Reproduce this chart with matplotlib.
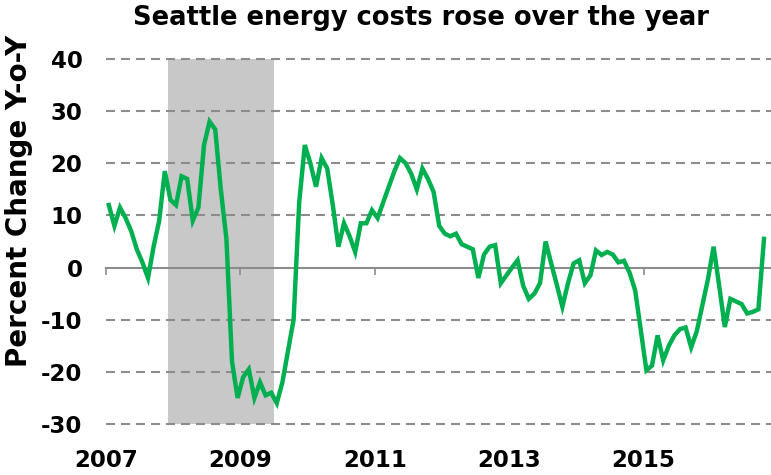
import numpy as np
import matplotlib
matplotlib.use("Agg")
import matplotlib.pyplot as plt

# ---- data ----
start_year = 2007
yoy_change = [
    12, 8, 11.5, 9.5, 7, 3.5, 1, -2, 4, 9, 18.5, 13,          # 2007
    12, 17.5, 17, 9, 11.5, 23.5, 28, 26.5, 15, 5.5, -18, -25,  # 2008
    -21, -19.5, -25, -22, -24.5, -24, -26, -22, -16, -10, 12.5, 23.5,  # 2009
    20, 15.5, 21, 19, 12, 4, 8.5, 6, 3, 8.5, 8.5, 11,          # 2010
    9.5, 12.5, 15.5, 18.5, 21, 20, 18, 15, 19, 17, 14.5, 8,    # 2011
    6.5, 6, 6.5, 4.5, 4, 3.5, -2, 2.5, 4, 4.3, -3, -1.5,       # 2012
    0, 1.4, -3.5, -6, -5, -3, 5, 0.8, -3.3, -7.5, -3, 0.8,     # 2013
    1.4, -3, -1.5, 3.3, 2.4, 3, 2.5, 1, 1.3, -1, -4.4, -12,    # 2014
    -19.7, -18.8, -13, -17.8, -15, -13, -11.8, -11.5, -15.3, -12.2, -7.2, -2.2,  # 2015
    4, -3.5, -11.4, -6, -6.5, -7, -8.8, -8.5, -8, 5.5,         # 2016
]
year_ticks = [2007, 2009, 2011, 2013, 2015]
y_ticks = [-30, -20, -10, 0, 10, 20, 30, 40]
recession = (2007 + 11 / 12, 2009 + 6 / 12)   # Dec 2007 - Jun 2009

title = "Seattle energy costs rose over the year"
ylabel = "Percent Change Y-o-Y"

# ---- plot ----
plt.rcParams['font.family'] = ['DejaVu Sans']
fig = plt.figure(figsize=(7.71, 4.75), dpi=100)
ax = fig.add_axes([106 / 771, 51 / 475, (771 - 106) / 771, (424 - 59) / 475])

n = len(yoy_change)
x = start_year + (np.arange(n) + 0.5) / 12.0

ax.axvspan(recession[0], recession[1], color='#c8c8c8', lw=0, zorder=0)

for yt in y_ticks:
    if yt == 0:
        continue
    ax.axhline(yt, color='#8c8c8c', lw=1.5, ls=(0, (4.3, 2.9)), zorder=1, clip_on=False)

ax.plot(x, yoy_change, color='#00b050', lw=3.2, zorder=3, solid_joinstyle='miter')

ax.set_xlim(start_year, start_year + (771 - 106) / 67.2)
ax.set_ylim(-30, 40)

for s in ['left', 'right', 'top']:
    ax.spines[s].set_visible(False)
ax.spines['bottom'].set_position(('data', 0))
ax.spines['bottom'].set_color('#8c8c8c')
ax.spines['bottom'].set_linewidth(1.5)
ax.spines['bottom'].set_zorder(2)

ax.set_xticks(year_ticks)
ax.tick_params(axis='x', direction='out', length=5, width=1.2, color='#8c8c8c',
               labelbottom=False)
ax.set_yticks(y_ticks)
ax.set_yticklabels([str(v) for v in y_ticks])
ax.tick_params(axis='y', length=0, pad=17, labelsize=16.5)
for lab in ax.get_yticklabels():
    lab.set_fontweight('bold')

sec = ax.secondary_xaxis(0)
sec.set_xticks(year_ticks)
sec.set_xticklabels([str(v) for v in year_ticks])
sec.tick_params(length=0, pad=18, labelsize=16.5)
for lab in sec.get_xticklabels():
    lab.set_fontweight('bold')
sec.spines['bottom'].set_visible(False)

fig.text(19 / 771, 1 - 201 / 475, ylabel, rotation=90, ha='center', va='center',
         fontsize=20, fontweight='bold')

fig.text(421 / 771, 1 - 18 / 475, title, ha='center', va='center',
         fontsize=18.5, fontweight='bold')

fig.savefig("out.png", dpi=100)
